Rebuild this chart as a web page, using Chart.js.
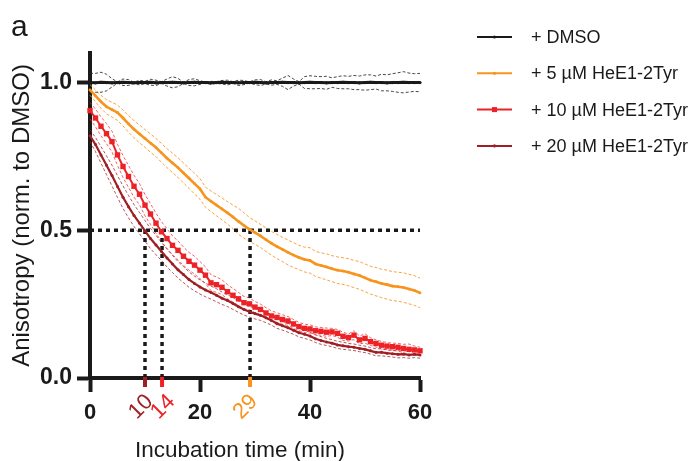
<!DOCTYPE html>
<html>
<head>
<meta charset="utf-8">
<title>Anisotropy vs incubation time</title>
<script src="https://cdn.jsdelivr.net/npm/chart.js@4.4.0/dist/chart.umd.min.js"></script>
<style>
  html, body { margin: 0; padding: 0; background: #fff; }
  canvas { display: block; }
</style>
</head>
<body>
<canvas id="chart" width="695" height="461"></canvas>
<script>
// ===== data =====
const minutes = [0,1,2,3,4,5,6,7,8,9,10,11,12,13,14,15,16,17,18,19,20,21,22,23,24,25,26,27,28,29,30,
  31,32,33,34,35,36,37,38,39,40,41,42,43,44,45,46,47,48,49,50,51,52,53,54,55,56,57,58,59,60];

const dmsoMean = [1.000,0.999,1.001,1.000,0.999,1.000,1.001,1.000,0.999,1.000,
  1.000,1.001,0.999,1.000,1.000,1.001,1.000,0.999,1.000,1.001,
  1.000,1.000,0.999,1.000,1.001,1.000,1.000,0.999,1.000,1.000,
  1.001,1.000,0.999,1.000,1.000,1.001,1.000,1.000,0.999,1.000,
  1.001,1.000,1.000,0.999,1.000,1.000,1.001,1.000,1.000,0.999,
  1.000,1.001,1.000,1.000,0.999,1.000,1.000,1.001,1.000,1.000,1.000];
const dmsoSd = [0.031,0.032,0.034,0.028,0.014,0.002,0.011,0.010,0.002,0.008,
  0.004,0.010,0.009,0.003,0.012,0.019,0.014,0.002,0.010,0.012,
  0.006,0.002,0.005,0.003,0.006,0.008,0.003,0.009,0.007,0.002,
  0.008,0.010,0.004,0.009,0.006,0.014,0.024,0.012,0.004,0.020,
  0.022,0.021,0.020,0.022,0.016,0.020,0.022,0.021,0.024,0.023,
  0.026,0.025,0.022,0.028,0.027,0.030,0.033,0.036,0.032,0.030,0.031];

const he5Mean = [0.975,0.955,0.935,0.918,0.908,0.898,0.880,0.860,0.842,0.826,
  0.811,0.795,0.780,0.762,0.744,0.728,0.712,0.694,0.676,0.658,
  0.640,0.612,0.598,0.585,0.572,0.559,0.545,0.530,0.516,0.503,
  0.492,0.481,0.468,0.456,0.445,0.435,0.425,0.416,0.408,0.401,
  0.398,0.386,0.381,0.376,0.370,0.365,0.362,0.358,0.352,0.347,
  0.339,0.331,0.326,0.320,0.316,0.311,0.309,0.306,0.301,0.296,0.288];
const he5Sd = [0.018,0.020,0.022,0.024,0.025,0.026,0.027,0.028,0.029,0.030,
  0.030,0.031,0.031,0.032,0.032,0.033,0.033,0.034,0.034,0.035,
  0.035,0.034,0.035,0.036,0.037,0.038,0.040,0.044,0.043,0.040,
  0.040,0.039,0.040,0.040,0.041,0.041,0.042,0.042,0.041,0.042,
  0.043,0.042,0.043,0.044,0.044,0.045,0.045,0.046,0.046,0.047,
  0.047,0.047,0.048,0.048,0.049,0.049,0.049,0.050,0.050,0.050,0.050];

const he10Mean = [0.905,0.880,0.852,0.827,0.800,0.755,0.716,0.682,0.649,0.622,
  0.585,0.555,0.524,0.495,0.472,0.449,0.432,0.412,0.395,0.382,
  0.365,0.348,0.322,0.316,0.307,0.292,0.280,0.268,0.255,0.251,
  0.240,0.232,0.220,0.210,0.205,0.198,0.193,0.183,0.174,0.168,
  0.166,0.160,0.158,0.155,0.156,0.151,0.141,0.137,0.145,0.129,
  0.134,0.123,0.117,0.111,0.108,0.106,0.104,0.100,0.097,0.095,0.092];
const he10Sd = [0.028,0.030,0.032,0.034,0.035,0.036,0.037,0.037,0.037,0.036,
  0.036,0.035,0.034,0.034,0.033,0.032,0.032,0.031,0.030,0.030,
  0.029,0.028,0.027,0.026,0.025,0.024,0.023,0.022,0.021,0.020,
  0.019,0.018,0.018,0.017,0.016,0.016,0.015,0.015,0.014,0.014,
  0.014,0.013,0.013,0.014,0.012,0.013,0.014,0.012,0.015,0.013,
  0.016,0.013,0.012,0.013,0.012,0.012,0.013,0.014,0.018,0.013,0.012];

const he20Mean = [0.820,0.790,0.755,0.720,0.685,0.648,0.612,0.580,0.550,0.524,
  0.498,0.472,0.450,0.428,0.406,0.386,0.366,0.350,0.333,0.320,
  0.308,0.298,0.289,0.280,0.270,0.262,0.252,0.241,0.232,0.224,
  0.218,0.212,0.204,0.195,0.184,0.177,0.170,0.162,0.153,0.148,
  0.142,0.133,0.127,0.122,0.118,0.112,0.109,0.106,0.104,0.100,
  0.097,0.092,0.087,0.087,0.084,0.082,0.080,0.081,0.078,0.080,0.078];
const he20Sd = [0.020,0.024,0.028,0.032,0.035,0.037,0.038,0.038,0.037,0.036,
  0.035,0.034,0.033,0.031,0.030,0.029,0.028,0.027,0.026,0.025,
  0.024,0.023,0.022,0.022,0.021,0.020,0.020,0.019,0.019,0.018,
  0.018,0.017,0.017,0.016,0.016,0.015,0.015,0.014,0.014,0.014,
  0.013,0.013,0.013,0.012,0.012,0.012,0.012,0.011,0.011,0.011,
  0.011,0.011,0.012,0.012,0.011,0.011,0.012,0.012,0.011,0.011,0.011];

// half-life markers: where the dotted lines sit, and the numbers printed under them
const halfLevel = 0.5;
const halfLineAt = [10, 13.1, 29.1];
const halfLabels = ["10", "14", "29"];
const halfColors = ["#9e1f24", "#ec2227", "#f7941e"];

const xTicks = [0, 20, 40, 60];
const yTicks = [0, 0.5, 1.0];

const FONT = "'Liberation Sans', Arial, Helvetica, sans-serif";
Chart.defaults.font.family = FONT;
Chart.defaults.color = "#1a1a1a";

// ===== build datasets =====
const groups = [
  { label: "+ DMSO", mean: dmsoMean, sd: dmsoSd, color: "#1a1a1a", band: "rgba(40,40,40,0.85)",
    style: "circle", radius: 1.6, width: 3 },
  { label: "+ 5 µM HeE1-2Tyr", mean: he5Mean, sd: he5Sd, color: "#f7941e", band: "rgba(247,148,30,0.85)",
    style: "circle", radius: 1.4, width: 2.6 },
  { label: "+ 10 µM HeE1-2Tyr", mean: he10Mean, sd: he10Sd, color: "#ec2227", band: "rgba(236,34,39,0.7)",
    style: "rect", radius: 3.8, width: 2 },
  { label: "+ 20 µM HeE1-2Tyr", mean: he20Mean, sd: he20Sd, color: "#9e1f24", band: "rgba(158,31,36,0.75)",
    style: "circle", radius: 1.5, width: 2.2 },
];

const toPts = (arr) => arr.map((v, i) => ({ x: minutes[i], y: v }));

const datasets = [];
groups.forEach((g, gi) => {
  // mean trace, drawn on top
  datasets.push({
    label: g.label,
    inLegend: true,
    data: toPts(g.mean),
    borderColor: g.color,
    backgroundColor: g.color,
    borderWidth: g.width,
    pointStyle: g.style,
    pointRadius: g.radius,
    pointBorderWidth: 0,
    pointBackgroundColor: g.color,
    tension: 0,
    clip: false,
    order: gi,
  });
  // upper / lower dashed traces
  [1, -1].forEach((sign) => {
    datasets.push({
      label: g.label + (sign > 0 ? " upper" : " lower"),
      data: toPts(g.mean.map((m, i) => m + sign * g.sd[i])),
      borderColor: g.band,
      borderWidth: 1,
      borderDash: [3, 2],
      pointRadius: 0,
      tension: 0,
      clip: false,
      order: 20 + gi,
    });
  });
});

// dotted guide lines
const dotted = {
  borderColor: "#1a1a1a",
  borderWidth: 3.5,
  borderDash: [4, 4],
  pointRadius: 0,
  clip: false,
  order: 10,
};
datasets.push({ ...dotted, label: "half", data: [{ x: xTicks[0], y: halfLevel }, { x: xTicks[xTicks.length - 1], y: halfLevel }] });
halfLineAt.forEach((t, i) => {
  datasets.push({ ...dotted, label: "t½ " + halfLabels[i], data: [{ x: t, y: 0 }, { x: t, y: halfLevel }] });
});

// ===== extras: panel letter, x title, coloured half-life ticks, legend =====
const extras = {
  id: "extras",
  afterDraw(chart) {
    const ctx = chart.ctx;
    const xs = chart.scales.x;

    ctx.save();
    // panel letter
    ctx.fillStyle = "#1a1a1a";
    ctx.font = "30px " + FONT;
    ctx.textAlign = "left";
    ctx.textBaseline = "alphabetic";
    ctx.fillText("a", 11, 36);

    // x axis title (sits a little left of the axis centre in the original)
    ctx.font = "22.5px " + FONT;
    ctx.textAlign = "center";
    ctx.textBaseline = "middle";
    ctx.fillText("Incubation time (min)", 240, 451);

    // coloured ticks + rotated numbers
    halfLineAt.forEach((t, i) => {
      const px = xs.getPixelForValue(t);
      ctx.fillStyle = halfColors[i];
      ctx.fillRect(px - 2, xs.top - 1, 4, 10);
      const lx = xs.getPixelForValue(Number(halfLabels[i])) - 4;
      ctx.save();
      ctx.translate(lx, xs.top + 29);
      ctx.rotate(-Math.PI / 4);
      ctx.font = "22px " + FONT;
      ctx.textAlign = "center";
      ctx.textBaseline = "middle";
      ctx.fillText(halfLabels[i], 0, 0);
      ctx.restore();
    });

    // legend
    const items = chart.data.datasets.filter((d) => d.inLegend);
    items.forEach((d, i) => {
      const y = 37 + i * 36.3;
      ctx.strokeStyle = d.borderColor;
      ctx.lineWidth = 2;
      ctx.setLineDash([]);
      ctx.beginPath();
      ctx.moveTo(477, y);
      ctx.lineTo(512, y);
      ctx.stroke();
      ctx.fillStyle = d.borderColor;
      if (d.pointStyle === "rect") {
        ctx.fillRect(494.5 - 2.5, y - 2.5, 5, 5);
      } else {
        ctx.beginPath();
        ctx.arc(494.5, y, 1.6, 0, Math.PI * 2);
        ctx.fill();
      }
      ctx.fillStyle = "#1a1a1a";
      ctx.font = "18px " + FONT;
      ctx.textAlign = "left";
      ctx.textBaseline = "middle";
      ctx.fillText(d.label, 531, y + 1);
    });
    ctx.restore();
  },
};

new Chart(document.getElementById("chart"), {
  type: "line",
  data: { datasets },
  options: {
    responsive: false,
    animation: false,
    devicePixelRatio: 1,
    layout: { padding: { top: 53, right: 275, left: 0, bottom: 0 } },
    plugins: { legend: { display: false }, tooltip: { enabled: false } },
    scales: {
      x: {
        type: "linear",
        min: 0,
        max: 60,
        afterBuildTicks: (s) => { s.ticks = xTicks.map((v) => ({ value: v })); },
        afterFit: (s) => { s.height = 83; },
        grid: { display: true, drawOnChartArea: false, drawTicks: true, tickLength: 14, tickWidth: 4, tickColor: "#1a1a1a" },
        border: { display: true, width: 4, color: "#1a1a1a" },
        ticks: { font: { size: 22, weight: "bold" }, color: "#1a1a1a", padding: 8, maxRotation: 0 },
        title: { display: false },
      },
      y: {
        min: 0,
        max: 1.1,
        afterBuildTicks: (s) => { s.ticks = yTicks.map((v) => ({ value: v })); },
        afterFit: (s) => { s.width = 90; },
        grid: { display: true, drawOnChartArea: false, drawTicks: true, tickLength: 13, tickWidth: 4, tickColor: "#1a1a1a" },
        border: { display: true, width: 4, color: "#1a1a1a" },
        ticks: { font: { size: 23, weight: "bold" }, color: "#1a1a1a", padding: 5, callback: (v) => Number(v).toFixed(1) },
        title: { display: true, text: "Anisotropy (norm. to DMSO)", font: { size: 24 }, padding: { top: 8, bottom: 0 }, color: "#1a1a1a" },
      },
    },
  },
  plugins: [extras],
});
</script>
</body>
</html>
